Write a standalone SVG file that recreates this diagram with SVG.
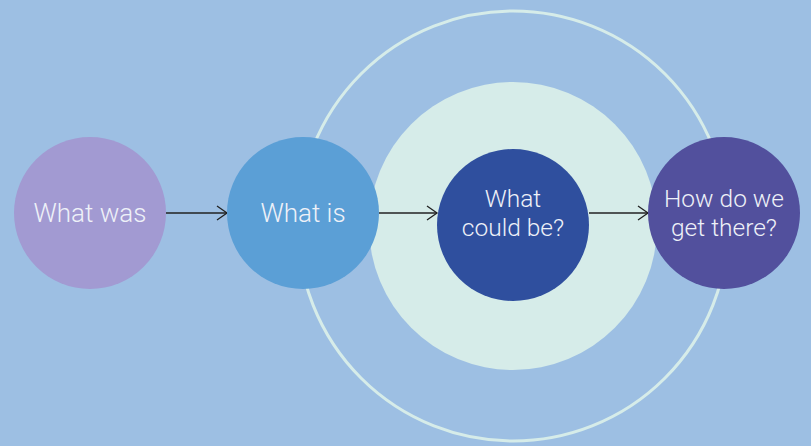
<svg xmlns="http://www.w3.org/2000/svg" width="811" height="446" viewBox="0 0 811 446">
<defs>
<style>
.lbl{font-family:Roboto,"Liberation Sans",sans-serif;font-weight:300;font-size:26px;fill:#EEF1F8;text-anchor:middle}
.two{font-size:24.5px}
.conn{stroke:#222;stroke-width:1.3;fill:none}
</style>
<marker id="arr" markerWidth="14" markerHeight="16" refX="12" refY="8" orient="auto" markerUnits="userSpaceOnUse">
<path d="M2,1 L12,8 L2,15" fill="none" stroke="#222" stroke-width="1.3"/>
</marker>
</defs>
<rect width="811" height="446" fill="#9DBFE3"/>
<circle cx="513" cy="226" r="215" fill="none" stroke="#D6ECE9" stroke-width="3"/>
<circle cx="513" cy="226" r="144" fill="#D6ECE9"/>
<g id="connectors">
<line class="conn" x1="166" y1="213" x2="227" y2="213" marker-end="url(#arr)"/>
<line class="conn" x1="379" y1="213" x2="437" y2="213" marker-end="url(#arr)"/>
<line class="conn" x1="589" y1="213" x2="648" y2="213" marker-end="url(#arr)"/>
</g>
<g id="what-was"><circle cx="90" cy="213" r="76" fill="#A29AD2"/><text class="lbl" x="90" y="222">What was</text></g>
<g id="what-is"><circle cx="303" cy="213" r="76" fill="#5B9FD6"/><text class="lbl" x="303" y="222">What is</text></g>
<g id="what-could-be"><circle cx="513" cy="225" r="76" fill="#2F4F9E"/><text class="lbl two" x="513" y="207">What</text><text class="lbl two" x="513" y="236">could be?</text></g>
<g id="how-get-there"><circle cx="724" cy="213" r="76" fill="#52509D"/><text class="lbl two" x="724" y="207">How do we</text><text class="lbl two" x="724" y="236">get there?</text></g>
</svg>
